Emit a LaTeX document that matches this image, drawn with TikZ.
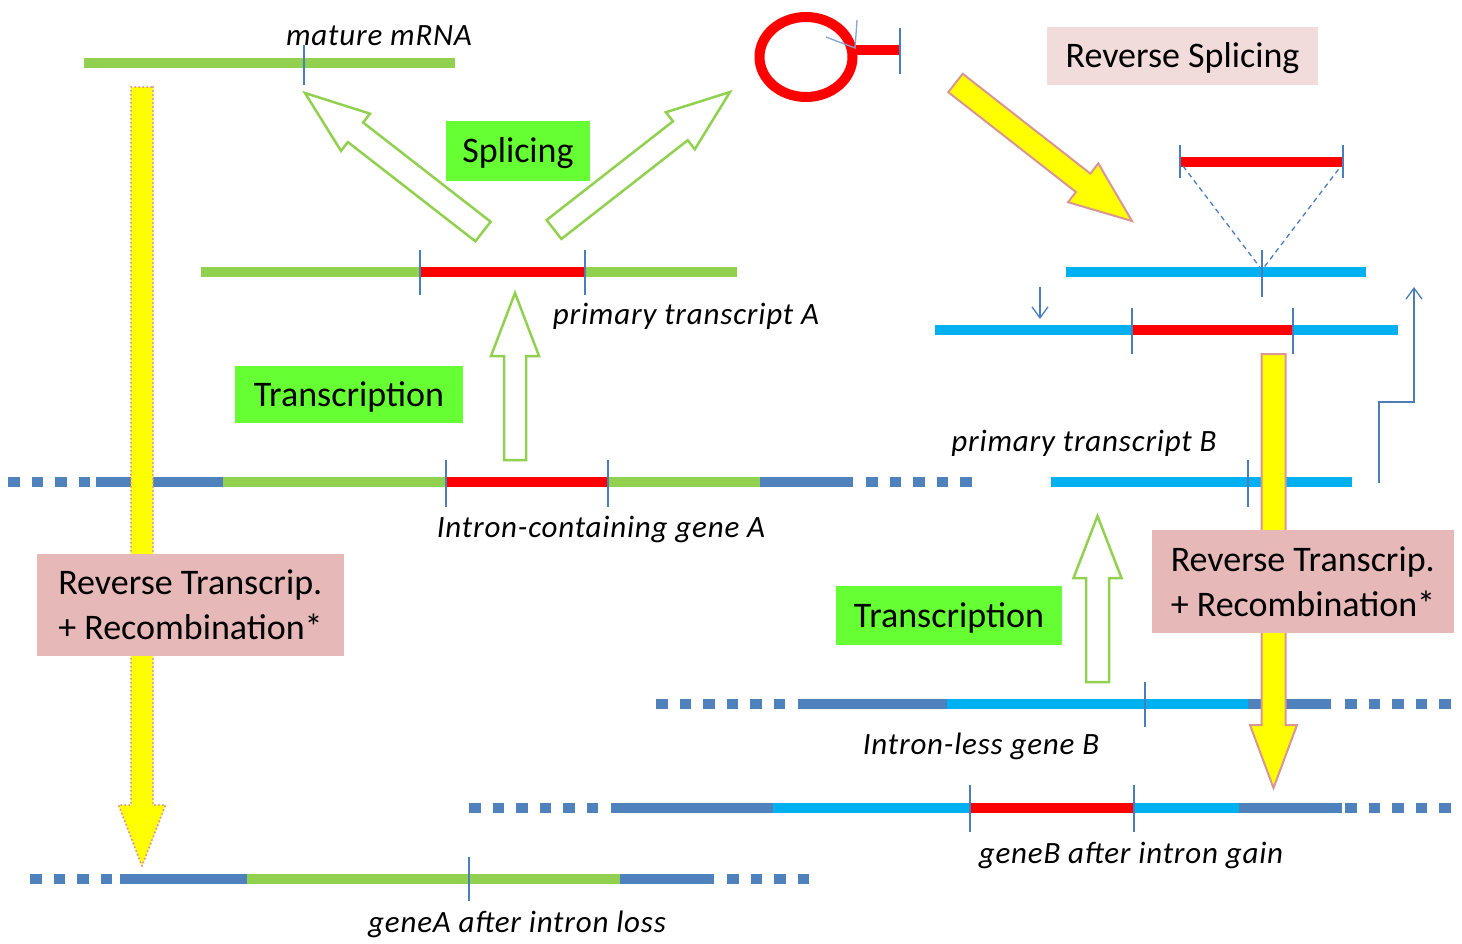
\documentclass[tikz,border=0pt]{standalone}
\usepackage{fontspec}
\setmainfont{Carlito}
\usetikzlibrary{calc,arrows.meta}

\definecolor{lgreen}{RGB}{146,208,80}
\definecolor{dblue}{RGB}{79,129,189}
\definecolor{cyanb}{RGB}{0,176,240}
\definecolor{tickb}{RGB}{74,126,187}
\definecolor{boxgreen}{RGB}{102,255,51}
\definecolor{boxpink}{RGB}{230,185,184}
\definecolor{boxlpink}{RGB}{242,220,219}
\definecolor{yfill}{RGB}{255,255,0}
\definecolor{yedge}{RGB}{217,150,148}
\definecolor{redbar}{RGB}{255,0,0}

% block arrow: style, base, tip, shaft half width, head half width, head length
\newcommand\blockarrow[6]{%
  \coordinate (ba-h) at ($(#3)!#6!(#2)$);
  \draw[#1] ($(#2)!#4!90:(#3)$) -- ($(ba-h)!#4!90:(#3)$) -- ($(ba-h)!#5!90:(#3)$)
    -- (#3) -- ($(ba-h)!#5!-90:(#3)$) -- ($(ba-h)!#4!-90:(#3)$)
    -- ($(#2)!#4!-90:(#3)$) -- cycle;
}

\tikzset{
  bar/.style={line width=10.5pt},
  dots/.style={line width=10.5pt, dash pattern=on 11.5pt off 12pt},
  tick/.style={tickb, line width=1.3pt},
  thinarrow/.style={tickb, line width=1.3pt, -{Straight Barb[length=11pt,width=16pt]}},
  glabel/.style={font=\fontsize{31}{36}\selectfont\itshape\addfontfeature{LetterSpace=2.6}, anchor=base, inner sep=0pt},
  boxtext/.style={inner sep=0pt, font=\fontsize{36}{45}\selectfont},
  onebox/.style={boxtext, text height=23pt, text depth=0pt},
  hollow/.style={draw=lgreen, line width=2.5pt, fill=white, line join=miter},
  yarrow/.style={draw=yedge, line width=2pt, fill=yfill},
  ydotted/.style={draw=yedge, line width=2.4pt, fill=yfill, dash pattern=on 0pt off 4pt, line cap=round},
}

\begin{document}
\begin{tikzpicture}[x=1pt, y=-1pt]
\useasboundingbox (0,0) rectangle (1462,943);
\fill[white] (0,0) rectangle (1462,943);

% ---------- gene A side ----------
% mature mRNA
\draw[bar, lgreen] (84,63) -- (455,63);
\draw[tick] (304,45) -- (304,85);
\node[glabel] (lmrna) at (379,45) {mature mRNA};

% primary transcript A
\draw[bar, lgreen] (201,272) -- (420,272);
\draw[bar, redbar] (420,272) -- (585,272);
\draw[bar, lgreen] (585,272) -- (737,272);
\draw[tick] (420,250) -- (420,295);
\draw[tick] (585,250) -- (585,295);
\node[glabel] (lptA) at (686,324) {primary transcript A};

% intron-containing gene A
\draw[dots, dblue] (8,482) -- (91,482);
\draw[bar, dblue] (96,482) -- (223,482);
\draw[bar, lgreen] (223,482) -- (446,482);
\draw[bar, redbar] (446,482) -- (608,482);
\draw[bar, lgreen] (608,482) -- (760,482);
\draw[bar, dblue] (760,482) -- (853,482);
\draw[dots, dblue] (866,482) -- (972,482);
\draw[tick] (446,460) -- (446,507);
\draw[tick] (608,460) -- (608,507);
\node[glabel] (lgeneA) at (601,537) {Intron-containing gene A};

% gene A after intron loss
\draw[dots, dblue] (30,879) -- (114,879);
\draw[bar, dblue] (120,879) -- (247,879);
\draw[bar, lgreen] (247,879) -- (620,879);
\draw[bar, dblue] (620,879) -- (714,879);
\draw[dots, dblue] (727,879) -- (810,879);
\draw[tick] (469,857) -- (469,901);
\node[glabel] (lgeneAl) at (517,932) {geneA after intron loss};

% excised intron lariat
\draw[redbar, line width=10pt] (806,57) ellipse [x radius=46.5, y radius=40];
\draw[redbar, line width=10.5pt] (851,50) -- (900,50);
\draw[tick] (900,28) -- (900,74);
\draw[tick, tickb!70] (826,37) -- (855,48) -- (857,20);

% ---------- gene B side ----------
% intron to be inserted
\draw[bar, redbar] (1181,162) -- (1343,162);
\draw[tick] (1180,145) -- (1180,178);
\draw[tick] (1343,145) -- (1343,178);
\coordinate (ins) at (1262,270);
\draw[tickb, line width=1.3pt, dash pattern=on 5pt off 4pt] (1183,166) -- (ins) -- (1341,166);

% mRNA B receiving the intron
\draw[bar, cyanb] (1066,272) -- (1366,272);
\draw[tick] (1262,250) -- (1262,297);

% mRNA B with intron
\draw[bar, cyanb] (935,330) -- (1132,330);
\draw[bar, redbar] (1132,330) -- (1293,330);
\draw[bar, cyanb] (1293,330) -- (1398,330);
\draw[tick] (1132,308) -- (1132,354);
\draw[tick] (1293,308) -- (1293,354);
\coordinate (dnA) at (1040,287);
\coordinate (dnB) at (1040,319);
\draw[thinarrow] (dnA) -- (dnB);

% step arrow
\coordinate (stA) at (1379,483);
\coordinate (stB) at (1414,287);
\draw[thinarrow] (stA) -- (1379,402) -- (1414,402) -- (stB);

% primary transcript B
\draw[bar, cyanb] (1051,482) -- (1352,482);
\draw[tick] (1248,460) -- (1248,507);
\node[glabel] (lptB) at (1084,451) {primary transcript B};

% intron-less gene B
\draw[dots, dblue] (656,704) -- (786,704);
\draw[bar, dblue] (798,704) -- (947,704);
\draw[bar, cyanb] (947,704) -- (1248,704);
\draw[bar, dblue] (1248,704) -- (1331,704);
\draw[dots, dblue] (1345,704) -- (1451,704);
\draw[tick] (1145,682) -- (1145,727);
\node[glabel] (lgeneB) at (981,754) {Intron-less gene B};

% gene B after intron gain
\draw[dots, dblue] (469,808) -- (599,808);
\draw[bar, dblue] (611,808) -- (773,808);
\draw[bar, cyanb] (773,808) -- (970,808);
\draw[bar, redbar] (970,808) -- (1134,808);
\draw[bar, cyanb] (1134,808) -- (1239,808);
\draw[bar, dblue] (1239,808) -- (1342,808);
\draw[dots, dblue] (1345,808) -- (1451,808);
\draw[tick] (970,785) -- (970,832);
\draw[tick] (1134,785) -- (1134,832);
\node[glabel] (lgeneBg) at (1131,863) {geneB after intron gain};

% ---------- block arrows ----------
\coordinate (yLb) at (142,87);   \coordinate (yLt) at (142,866);
\coordinate (yDb) at (955.5,83); \coordinate (yDt) at (1132,221);
\coordinate (yRb) at (1273.5,354); \coordinate (yRt) at (1273.5,788);
\blockarrow{ydotted}{yLb}{yLt}{11pt}{23.5pt}{61pt}
\blockarrow{yarrow}{yDb}{yDt}{11.7pt}{24.6pt}{62pt}
\blockarrow{yarrow}{yRb}{yRt}{12pt}{23.5pt}{63pt}

\coordinate (sLb) at (483,231.5); \coordinate (sLt) at (305,93);
\coordinate (sRb) at (554,229.5); \coordinate (sRt) at (730,92);
\coordinate (tAb) at (515,460);   \coordinate (tAt) at (515,293);
\coordinate (tBb) at (1097.5,682); \coordinate (tBt) at (1097.5,516);
\blockarrow{hollow}{sLb}{sLt}{12.4pt}{23.6pt}{64pt}
\blockarrow{hollow}{sRb}{sRt}{12pt}{23.5pt}{63pt}
\blockarrow{hollow}{tAb}{tAt}{11pt}{24pt}{63pt}
\blockarrow{hollow}{tBb}{tBt}{11.5pt}{24pt}{62pt}

% ---------- process boxes ----------
\node[onebox, fill=boxgreen, minimum width=144pt, minimum height=60pt] (splice) at (518,151) {Splicing};
\node[onebox, fill=boxgreen, minimum width=228pt, minimum height=57pt] (transA) at (349,394.5) {Transcription};
\node[onebox, fill=boxgreen, minimum width=226pt, minimum height=59pt] (transB) at (949,615.5) {Transcription};
\node[onebox, fill=boxlpink, minimum width=271pt, minimum height=58pt] (rsplice) at (1182.5,56) {Reverse Splicing};
\node[boxtext, fill=boxpink, align=left, minimum width=307pt, minimum height=102pt] (rtL) at (190.5,605) {Reverse Transcrip.\\+ Recombination*};
\node[boxtext, fill=boxpink, align=left, minimum width=302pt, minimum height=103pt] (rtR) at (1303,581.5) {Reverse Transcrip.\\+ Recombination*};
\end{tikzpicture}
\end{document}
